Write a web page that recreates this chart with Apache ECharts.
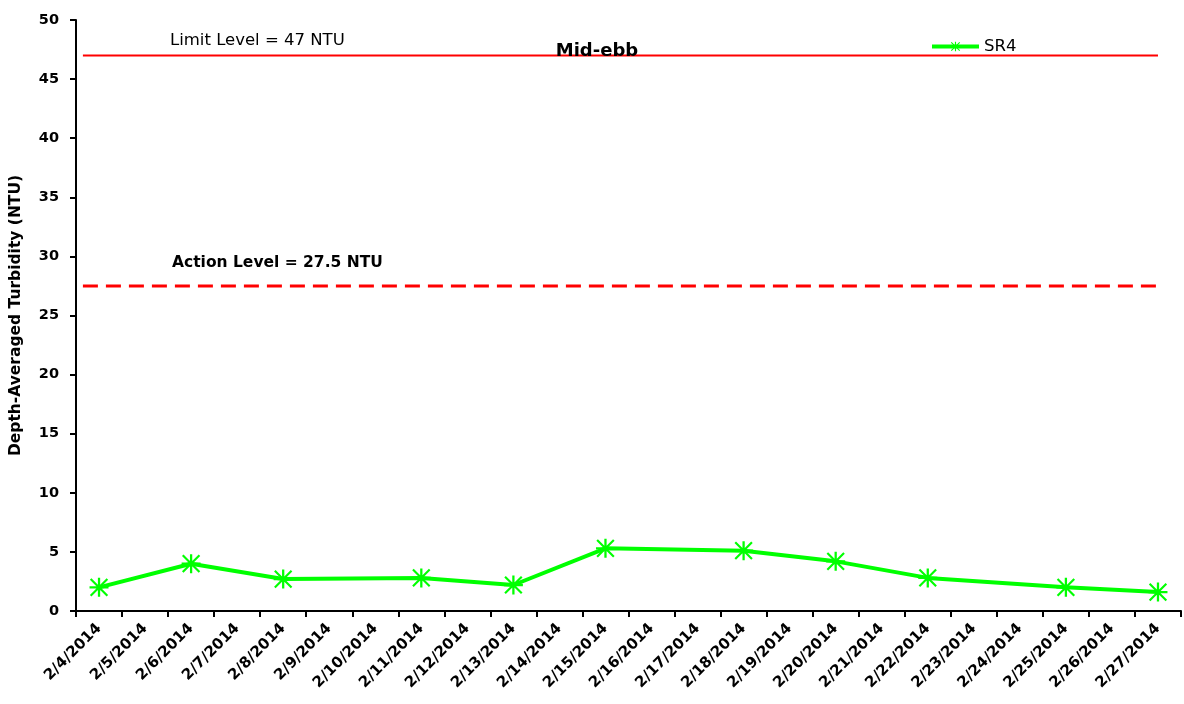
<!DOCTYPE html>
<html>
<head>
<meta charset="utf-8">
<script src="https://cdn.jsdelivr.net/npm/echarts@6/dist/echarts.min.js"></script>
<style>
  html, body { margin: 0; padding: 0; background: #fff; }
  #chart { width: 1184px; height: 704px; }
</style>
</head>
<body>
<div id="chart"></div>
<script>
// Sampling dates (daily categories)
var categories = [
  '2/4/2014', '2/5/2014', '2/6/2014', '2/7/2014', '2/8/2014', '2/9/2014',
  '2/10/2014', '2/11/2014', '2/12/2014', '2/13/2014', '2/14/2014', '2/15/2014',
  '2/16/2014', '2/17/2014', '2/18/2014', '2/19/2014', '2/20/2014', '2/21/2014',
  '2/22/2014', '2/23/2014', '2/24/2014', '2/25/2014', '2/26/2014', '2/27/2014'
];

// Depth-averaged turbidity at SR4 (NTU); null on days with no survey
var sr4 = [
  2.0, null, 4.0, null, 2.7, null,
  null, 2.8, null, 2.2, null, 5.3,
  null, null, 5.1, null, 4.2, null,
  2.8, null, null, 2.0, null, 1.6
];

// Compliance levels (NTU)
var limitLevel = 47;
var actionLevel = 27.5;

// Span of the level lines, in category units along the plot width
var levelSpan = [0.15, 23.5];

var yTicks = { min: 0, max: 50, interval: 5 };

var asterisk = 'path://M44 0H56V100H44Z M0 44H100V56H0Z M10 2L98 90L90 98L2 10Z M90 2L98 10L10 98L2 90Z';

var chart = echarts.init(document.getElementById('chart'), null, { renderer: 'canvas' });

var font = '"DejaVu Sans", Verdana, sans-serif';

chart.setOption({
  animation: false,
  backgroundColor: '#ffffff',
  textStyle: { fontFamily: font },
  title: {
    text: 'Mid-ebb',
    left: 592,
    top: 37,
    textAlign: 'center',
    textStyle: { fontFamily: font, fontSize: 18, fontWeight: 'bold', color: '#000' }
  },
  legend: {
    data: ['SR4'],
    left: 930,
    top: 38,
    padding: 0,
    itemWidth: 47,
    itemHeight: 12,
    itemGap: 4,
    lineStyle: { width: 4 },
    textStyle: { fontFamily: font, fontSize: 16.5, color: '#000' }
  },
  grid: { left: 75, right: 3, top: 20, bottom: 93, containLabel: false },
  xAxis: [
    {
      type: 'category',
      data: categories,
      boundaryGap: true,
      axisLine: { lineStyle: { color: '#000', width: 2 } },
      axisTick: { show: true, length: 6, alignWithLabel: false, lineStyle: { color: '#000', width: 2 } },
      axisLabel: {
        interval: 0,
        rotate: 45,
        margin: 15,
        fontFamily: font,
        fontSize: 15,
        fontWeight: 'bold',
        color: '#000'
      },
      splitLine: { show: false }
    },
    {
      type: 'value',
      min: 0,
      max: categories.length,
      show: false,
      position: 'bottom'
    }
  ],
  yAxis: {
    type: 'value',
    min: yTicks.min,
    max: yTicks.max,
    interval: yTicks.interval,
    name: 'Depth-Averaged Turbidity (NTU)',
    nameLocation: 'middle',
    nameGap: 52,
    nameTextStyle: { fontFamily: font, fontSize: 15.5, fontWeight: 'bold', color: '#000' },
    axisLine: { show: true, lineStyle: { color: '#000', width: 2 } },
    axisTick: { show: true, length: 6, lineStyle: { color: '#000', width: 2 } },
    axisLabel: { fontFamily: font, fontSize: 14.5, fontWeight: 'bold', color: '#000', margin: 17 },
    splitLine: { show: false }
  },
  series: [
    {
      name: 'SR4',
      type: 'line',
      xAxisIndex: 0,
      data: sr4,
      connectNulls: true,
      symbol: asterisk,
      symbolSize: 19,
      showAllSymbol: true,
      lineStyle: { color: '#00ff00', width: 4 },
      itemStyle: { color: '#00ff00' },
      z: 5
    },
    {
      name: 'Limit Level',
      type: 'line',
      xAxisIndex: 1,
      data: [[levelSpan[0], limitLevel], [levelSpan[1], limitLevel]],
      symbol: 'none',
      lineStyle: { color: '#ff0000', width: 2 },
      silent: true,
      z: 3
    },
    {
      name: 'Action Level',
      type: 'line',
      xAxisIndex: 1,
      data: [[levelSpan[0], actionLevel], [levelSpan[1], actionLevel]],
      symbol: 'none',
      lineStyle: { color: '#ff0000', width: 3, type: [15, 8] },
      silent: true,
      z: 3
    }
  ],
  graphic: [
    {
      type: 'text',
      left: 170,
      top: 32,
      style: { text: 'Limit Level = ' + limitLevel + ' NTU', font: '16.5px ' + font, fill: '#000' }
    },
    {
      type: 'text',
      left: 172,
      top: 255,
      style: { text: 'Action Level = ' + actionLevel + ' NTU', font: 'bold 15.5px ' + font, fill: '#000' }
    }
  ]
});
</script>
</body>
</html>
